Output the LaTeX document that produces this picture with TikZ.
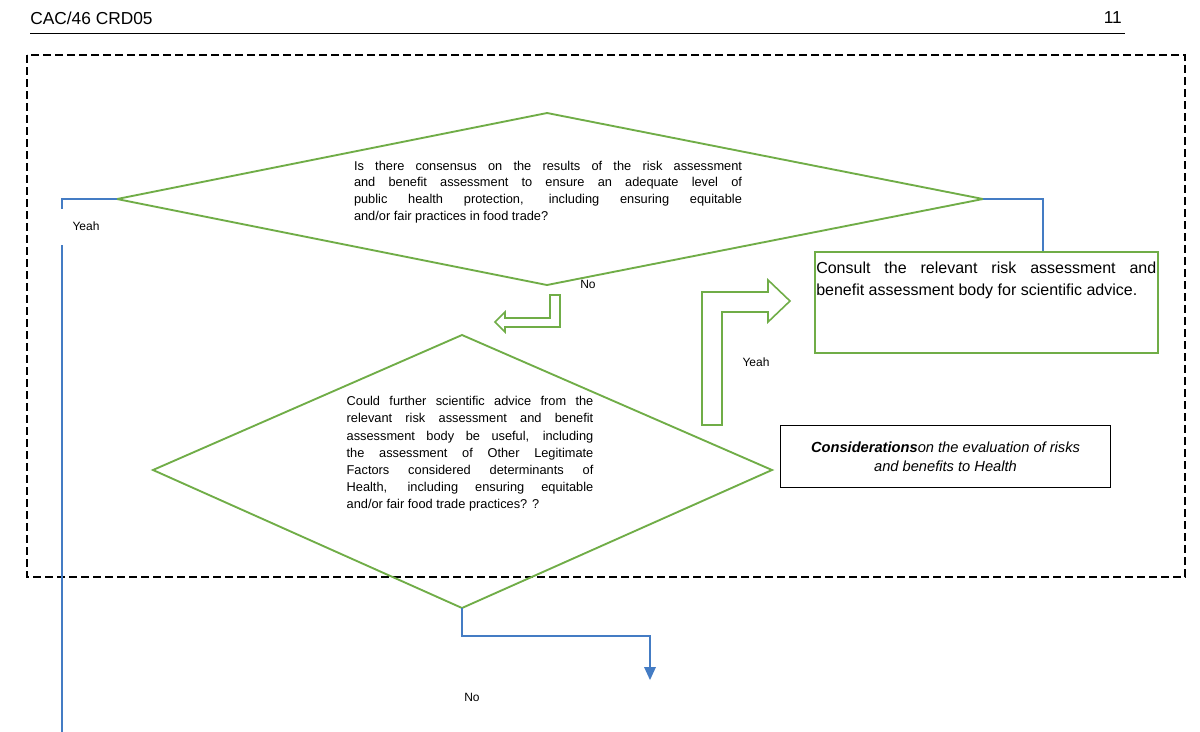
\documentclass[tikz,border=0pt]{standalone}
\usepackage{fontspec}
\setmainfont{Liberation Sans}
\definecolor{gc}{RGB}{112,173,71}
\definecolor{bc}{RGB}{68,124,196}
\begin{document}
\begin{tikzpicture}[x=0.75pt,y=-0.75pt,
  grn/.style={draw=gc,line width=1.4pt},
  blu/.style={draw=bc,line width=1.4pt},
  lbl/.style={font=\fontsize{9}{11}\selectfont,inner sep=0pt},
  dtext/.style={align=justify,font=\fontsize{9.6}{12.6}\selectfont,inner sep=0pt}]
\useasboundingbox (0,0) rectangle (1200,732);
\fill[white] (0,0) rectangle (1200,732);
\node[anchor=west,inner sep=0pt,font=\fontsize{13}{15}\selectfont] (hd) at (30,18) {CAC/46 CRD05};
\node[anchor=east,inner sep=0pt,font=\fontsize{13}{15}\selectfont] (pg) at (1122,18) {11};
\draw[line width=0.6pt] (30,33) -- (1125,33);
\draw[line width=2pt,dash pattern=on 6pt off 3pt] (27,55) rectangle (1185,577);
% diamond 1
\coordinate (d1t) at (547,113); \coordinate (d1l) at (117,199);
\coordinate (d1r) at (983,199); \coordinate (d1b) at (547,285);
\draw[grn] (d1t) -- (d1r) -- (d1b) -- (d1l) -- cycle;
\node[dtext,text width=291pt] (t1) at (548,192) {Is there consensus on the results of the risk assessment\linebreak and benefit assessment to ensure an adequate level of\linebreak public health protection, including ensuring equitable\linebreak and/or fair practices in food trade?};
% diamond 2
\coordinate (d2t) at (462,335); \coordinate (d2l) at (153,470);
\coordinate (d2r) at (772,470); \coordinate (d2b) at (462,608);
\draw[grn] (d2t) -- (d2r) -- (d2b) -- (d2l) -- cycle;
\node[dtext,text width=185pt,font=\fontsize{9.6}{12.9}\selectfont] (t2) at (470,454) {Could further scientific advice from the\linebreak relevant risk assessment and benefit\linebreak assessment body be useful, including\linebreak the assessment of Other Legitimate\linebreak Factors considered determinants of\linebreak Health, including ensuring equitable\linebreak and/or fair food trade practices? ?};
% consult box
\node[grn,draw,minimum width=257pt,minimum height=75.5pt,inner sep=0pt] (cb) at (986.5,302.5) {};
\node[anchor=north west,align=justify,text width=255pt,inner sep=0pt,font=\fontsize{12}{16.5}\selectfont] (ct) at (816,262) {Consult the relevant risk assessment and\linebreak benefit assessment body for scientific advice.};
% considerations
\node[draw,line width=0.8pt,minimum width=247pt,minimum height=47pt,inner sep=0pt] (cons) at (945.5,456.5) {};
\node[align=center,inner sep=0pt,font=\fontsize{11}{14}\selectfont\itshape] at (cons) {\textbf{Considerations}on the evaluation of risks\\ and benefits to Health};
% hollow arrows
\draw[grn,line width=1.2pt] (550,295)--(560,295)--(560,327)--(505,327)--(505,332)--(495,322)--(505,312)--(505,318)--(550,318)--cycle;
\draw[grn,line width=1.2pt] (702,425)--(702,292)--(768,292)--(768,280)--(790,301)--(768,322)--(768,312)--(722,312)--(722,425)--cycle;
% blue connectors
\coordinate (y1) at (62,209); \coordinate (y2) at (62,245); \coordinate (y3) at (62,732);
\draw[blu] (d1l) -- (62,199) -- (y1);
\draw[blu] (y2) -- (y3);
\draw[blu] (d1r) -- (1043,199) -- (cb.north -| 1043,0);
\coordinate (nend) at (650,680);
\draw[blu] (d2b) -- (462,636) -- (650,636) -- (650,668);
\fill[bc] (644,667) -- (656,667) -- (nend) -- cycle;
% labels
\node[lbl] (l1) at (86,226) {Yeah};
\node[lbl] (l2) at (588,284) {No};
\node[lbl] (l3) at (756,362) {Yeah};
\node[lbl] (l4) at (472,697) {No};
\end{tikzpicture}
\end{document}
